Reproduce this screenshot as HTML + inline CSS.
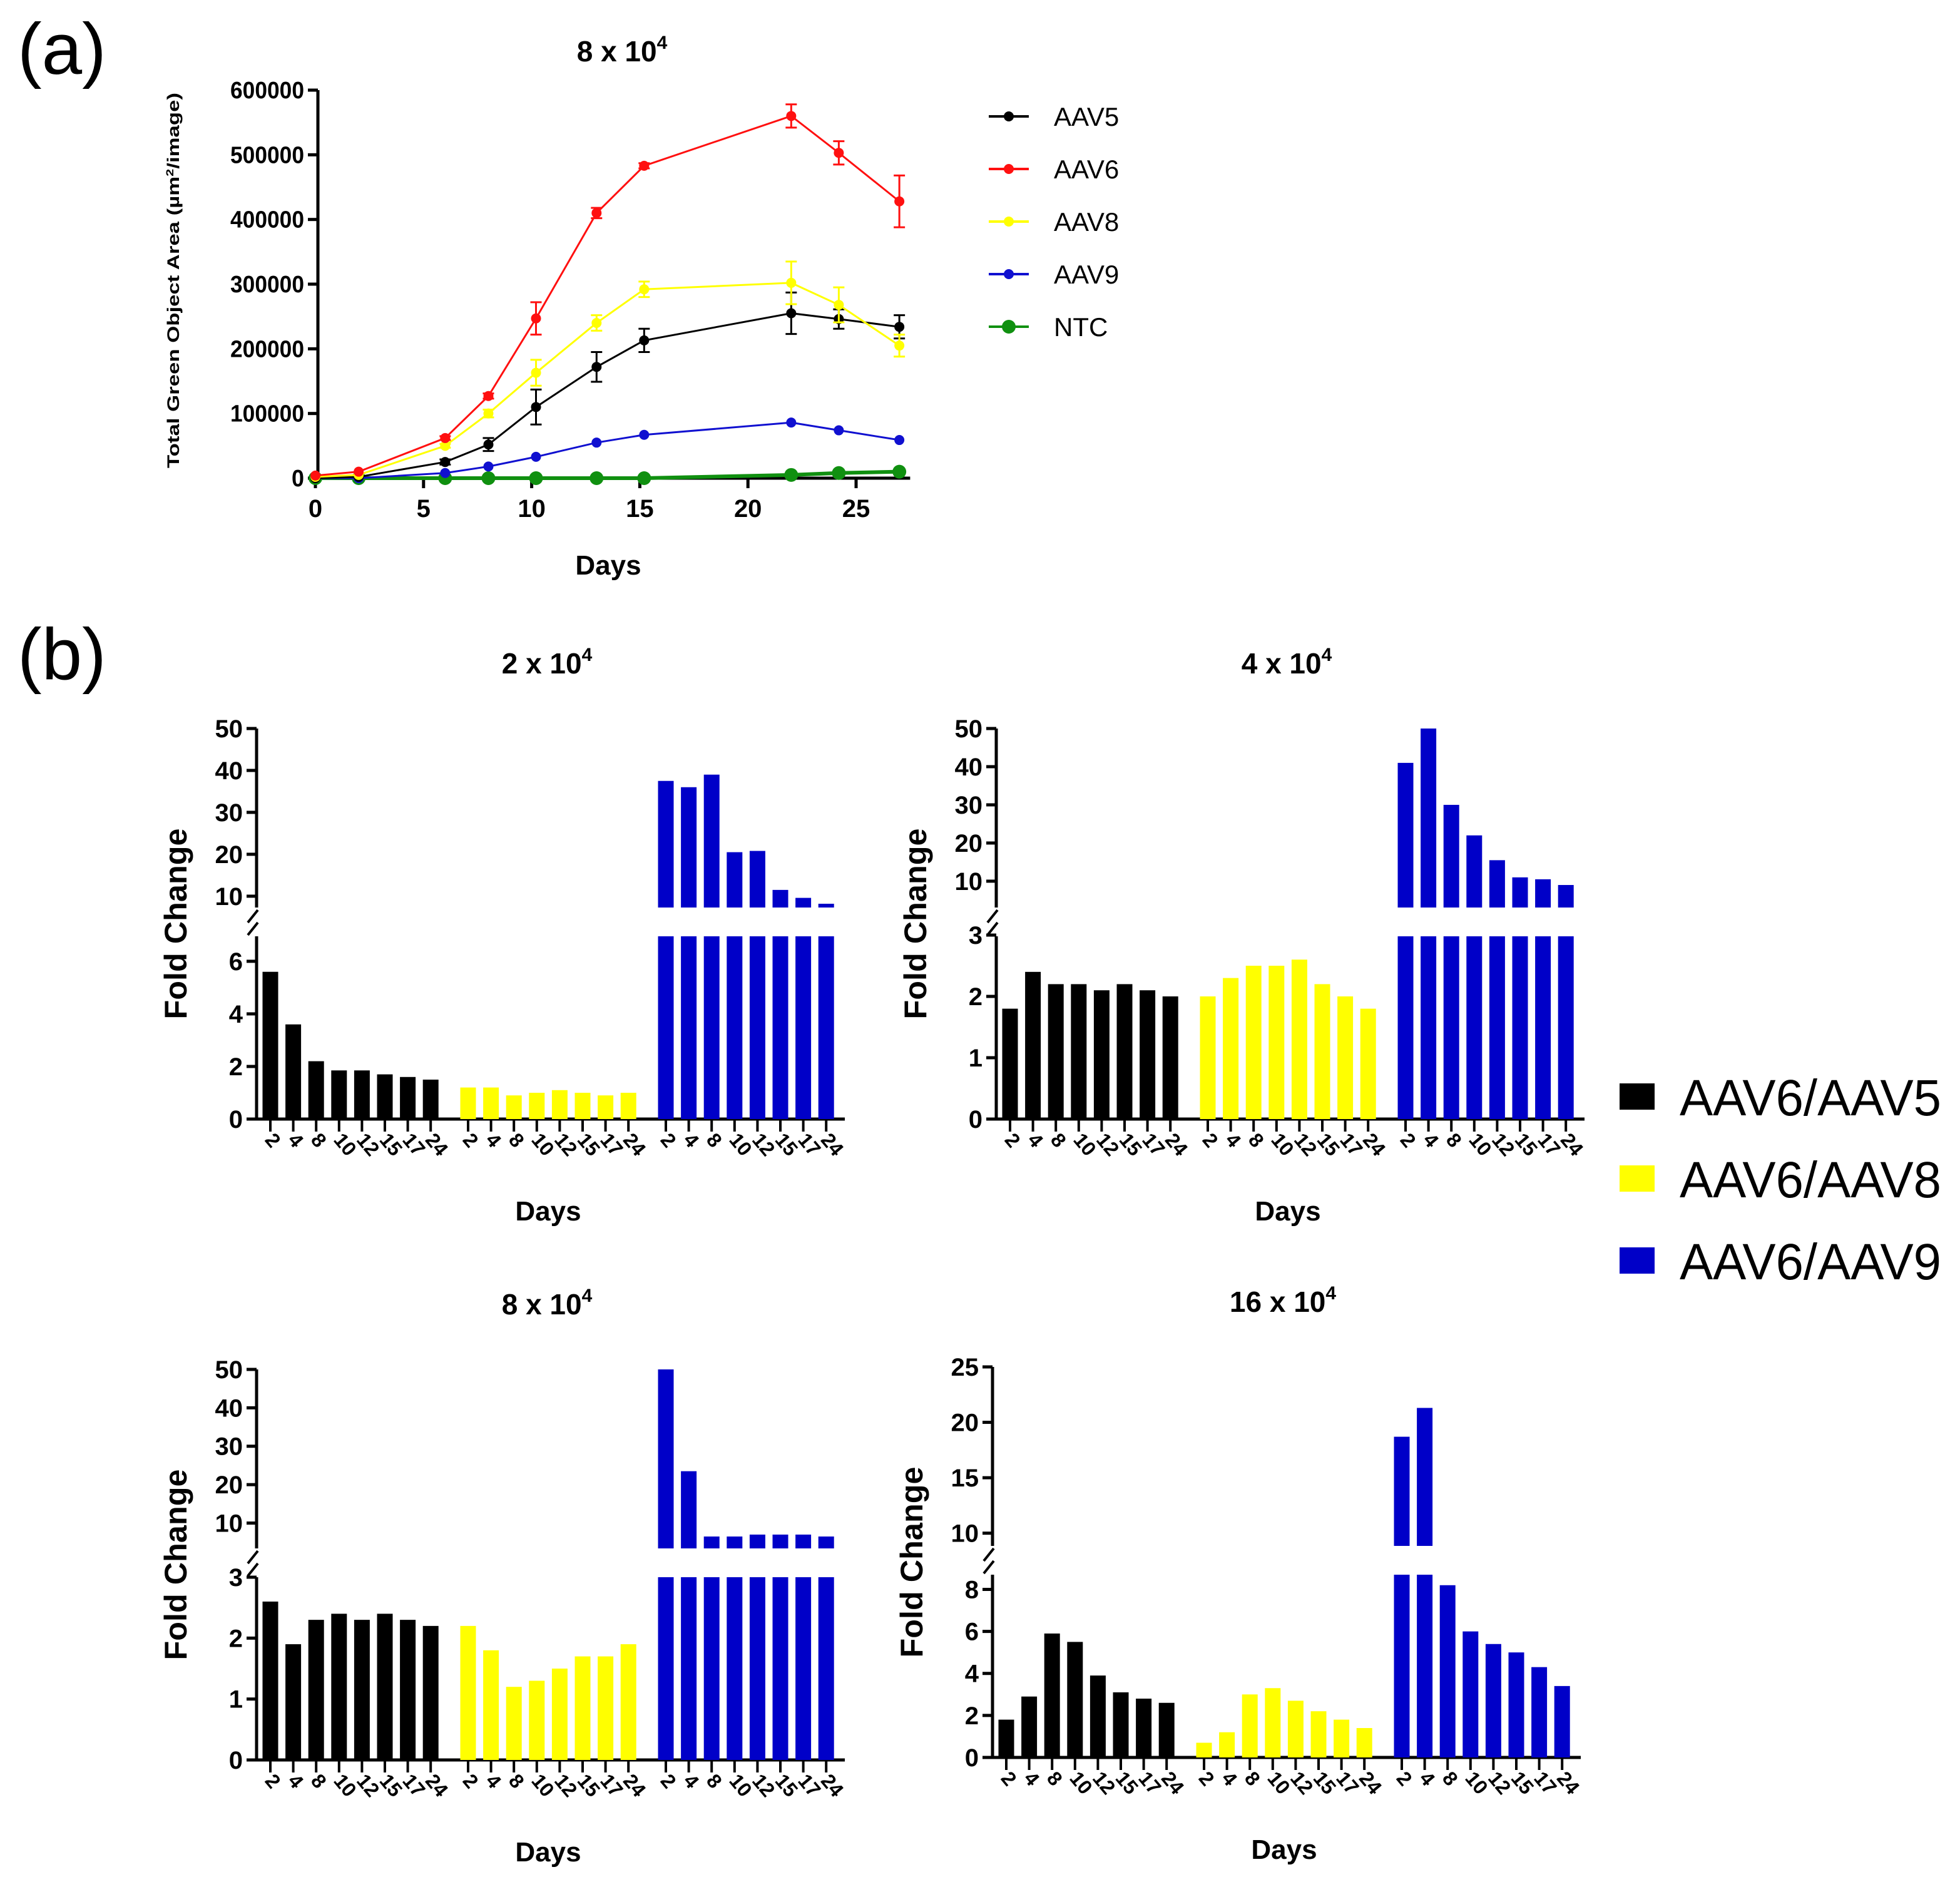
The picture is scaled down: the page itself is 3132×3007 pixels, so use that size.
<!DOCTYPE html>
<html><head><meta charset="utf-8"><style>
html,body{margin:0;padding:0;background:#fff;}
svg{display:block;font-family:"Liberation Sans",sans-serif;}
</style></head><body>
<svg id="fig" width="3132" height="3007" viewBox="0 0 3132 3007" xmlns="http://www.w3.org/2000/svg">
<text x="28" y="118" font-size="116">(a)</text>
<text x="28" y="1085" font-size="116">(b)</text>
<g id="lineChart"></g>
<g id="bars"></g>
<g id="legendB"></g>
</svg>
<script>
// ---------- Panel (a) data ----------
const days = [0, 2, 6, 8, 10.2, 13, 15.2, 22, 24.2, 27];
const seriesNames = ["AAV5", "AAV6", "AAV8", "AAV9", "NTC"];
const seriesColors = ["#000000", "#ff1010", "#ffff00", "#1010d0", "#109010"];
const aav5 = [0, 2000, 25000, 52000, 110000, 172000, 213000, 255000, 246000, 234000];
const aav6 = [4000, 10000, 62000, 127000, 247000, 410000, 483000, 560000, 503000, 428000];
const aav8 = [2000, 5000, 50000, 100000, 163000, 240000, 292000, 302000, 268000, 205000];
const aav9 = [0, 0, 8000, 18000, 33000, 55000, 67000, 86000, 74000, 59000];
const ntc = [0, 0, 0, 0, 0, 0, 0, 5000, 8000, 10000];
const aav5Err = [0, 0, 4000, 10000, 27000, 23000, 18000, 32000, 15000, 18000];
const aav6Err = [0, 0, 3000, 4000, 25000, 8000, 4000, 18000, 18000, 40000];
const aav8Err = [0, 0, 3000, 6000, 20000, 12000, 12000, 33000, 27000, 17000];
const aav9Err = [0, 0, 0, 0, 0, 0, 0, 0, 0, 0];
const ntcErr = [0, 0, 0, 0, 0, 0, 0, 0, 0, 0];
const yTicksA = [0, 100000, 200000, 300000, 400000, 500000, 600000];
const xTicksA = [0, 5, 10, 15, 20, 25];

// ---------- Panel (b) data ----------
const dayLabels = ["2", "4", "8", "10", "12", "15", "17", "24"];
const groupNames = ["AAV6/AAV5", "AAV6/AAV8", "AAV6/AAV9"];
const groupColors = ["#000000", "#ffff00", "#0000c8"];
const titles = ["2 x 10", "4 x 10", "8 x 10", "16 x 10"];
const p1Black = [5.6, 3.6, 2.2, 1.85, 1.85, 1.7, 1.6, 1.5];
const p1Yellow = [1.2, 1.2, 0.9, 1.0, 1.1, 1.0, 0.9, 1.0];
const p1Blue = [37.5, 36, 39, 20.5, 20.8, 11.5, 9.6, 8.2];
const p2Black = [1.8, 2.4, 2.2, 2.2, 2.1, 2.2, 2.1, 2.0];
const p2Yellow = [2.0, 2.3, 2.5, 2.5, 2.6, 2.2, 2.0, 1.8];
const p2Blue = [41, 50, 30, 22, 15.5, 11, 10.5, 9];
const p3Black = [2.6, 1.9, 2.3, 2.4, 2.3, 2.4, 2.3, 2.2];
const p3Yellow = [2.2, 1.8, 1.2, 1.3, 1.5, 1.7, 1.7, 1.9];
const p3Blue = [50, 23.5, 6.5, 6.5, 7, 7, 7, 6.5];
const p4Black = [1.8, 2.9, 5.9, 5.5, 3.9, 3.1, 2.8, 2.6];
const p4Yellow = [0.7, 1.2, 3.0, 3.3, 2.7, 2.2, 1.8, 1.4];
const p4Blue = [18.7, 21.3, 8.2, 6.0, 5.4, 5.0, 4.3, 3.4];
const lowTicks1 = [0, 2, 4, 6];
const lowTicks2 = [0, 1, 2, 3];
const lowTicks4 = [0, 2, 4, 6, 8];
const upTicks1 = [10, 20, 30, 40, 50];
const upTicks4 = [10, 15, 20, 25];

const NS = "http://www.w3.org/2000/svg";
function mk(tag, attrs, parent) {
  const e = document.createElementNS(NS, tag);
  for (const k in attrs) e.setAttribute(k, attrs[k]);
  parent.appendChild(e);
  return e;
}

// ---------- draw panel (a) ----------
(function () {
  const g = document.getElementById("lineChart");
  const x0 = 508, xPerDay = (1368 - 504) / 25, y0 = 764, yTop = 144;
  const xs = d => 504 + d * xPerDay;
  const ys = v => y0 - (v / 600000) * (y0 - yTop);
  const axY = mk("line", {x1: x0, y1: yTop, x2: x0, y2: y0, stroke: "#000", "stroke-width": 5}, g);
  
  
  const axX = mk("line", {x1: x0, y1: y0, x2: xs(27.5), y2: y0, stroke: "#000", "stroke-width": 5}, g);
  
  
  yTicksA.forEach(v => {
    mk("line", {x1: x0 - 16, y1: ys(v), x2: x0, y2: ys(v), stroke: "#000", "stroke-width": 5}, g);
    const t = mk("text", {x: x0 - 22, y: ys(v) + 13, "text-anchor": "end", "font-size": 38, "font-weight": "bold", "textLength": v === 0 ? 20 : 118, lengthAdjust: "spacingAndGlyphs"}, g);
    t.textContent = v;
    
    
  });
  xTicksA.forEach(v => {
    mk("line", {x1: xs(v), y1: y0, x2: xs(v), y2: y0 + 16, stroke: "#000", "stroke-width": 5}, g);
    const t = mk("text", {x: xs(v), y: y0 + 62, "text-anchor": "middle", "font-size": 40, "font-weight": "bold"}, g);
    t.textContent = v;
    
    
  });
  const xt = mk("text", {x: 972, y: 918, "text-anchor": "middle", "font-size": 44, "font-weight": "bold"}, g);
  xt.textContent = "Days";
  
  
  const yt = mk("text", {x: 0, y: 0, "text-anchor": "middle", "font-size": 27, "font-weight": "bold", "textLength": 600, lengthAdjust: "spacingAndGlyphs", transform: "translate(286,448) rotate(-90)"}, g);
  yt.innerHTML = 'Total Green Object Area (µm<tspan font-size="17" dy="-9">2</tspan><tspan dy="9">/image)</tspan>';
  
  
  const tt = mk("text", {x: 994, y: 98, "text-anchor": "middle", "font-size": 46, "font-weight": "bold"}, g);
  tt.innerHTML = '8 x 10<tspan font-size="30" dy="-20">4</tspan>';
  
  
  const all = [aav5, aav6, aav8, aav9, ntc];
  const errs = [aav5Err, aav6Err, aav8Err, aav9Err, ntcErr];
  [4, 3, 0, 2, 1].forEach(si => {
    const vals = all[si], col = seriesColors[si];
    const pts = days.map((d, i) => xs(d) + "," + ys(vals[i])).join(" ");
    const pl = mk("polyline", {points: pts, fill: "none", stroke: col, "stroke-width": si === 4 ? 6 : 3}, g);
    
    
    days.forEach((d, i) => {
      const e = errs[si][i];
      if (e > 0) {
        mk("line", {x1: xs(d), y1: ys(vals[i] - e), x2: xs(d), y2: ys(vals[i] + e), stroke: col, "stroke-width": 3}, g);
        mk("line", {x1: xs(d) - 9, y1: ys(vals[i] + e), x2: xs(d) + 9, y2: ys(vals[i] + e), stroke: col, "stroke-width": 3}, g);
        mk("line", {x1: xs(d) - 9, y1: ys(vals[i] - e), x2: xs(d) + 9, y2: ys(vals[i] - e), stroke: col, "stroke-width": 3}, g);
      }
      const c = mk("circle", {cx: xs(d), cy: ys(vals[i]), r: si === 4 ? 11 : 8, fill: col}, g);
      
      
    });
  });
  seriesNames.forEach((n, i) => {
    const y = 186 + i * 84;
    mk("line", {x1: 1580, y1: y, x2: 1644, y2: y, stroke: seriesColors[i], "stroke-width": 4}, g);
    mk("circle", {cx: 1612, cy: y, r: i === 4 ? 11 : 8, fill: seriesColors[i]}, g);
    const t = mk("text", {x: 1684, y: y + 15, "font-size": 42}, g);
    t.textContent = n;
    
    
  });
})();

// ---------- draw panel (b) ----------
function barPanel(cfg) {
  const g = mk("g", {}, document.getElementById("bars"));
  
  
  const dy = cfg.dy, ax = cfg.ax;
  const zeroY = 1788 + dy, lowTopY = 1496 + dy, upBotY = 1450 + dy, upTopY = 1164 + dy;
  const yLow = v => zeroY - (v / cfg.lowMax) * (zeroY - lowTopY);
  const yUp = v => upBotY - ((v - cfg.upMin) / (cfg.upMax - cfg.upMin)) * (upBotY - upTopY);
  const a1 = mk("line", {x1: ax, y1: zeroY, x2: ax, y2: lowTopY, stroke: "#000", "stroke-width": 5}, g);
  
  
  const a2 = mk("line", {x1: ax, y1: upBotY, x2: ax, y2: upTopY, stroke: "#000", "stroke-width": 5}, g);
  
  
  mk("line", {x1: ax - 14, y1: upBotY + 24, x2: ax + 2, y2: upBotY + 4, stroke: "#000", "stroke-width": 4}, g);
  mk("line", {x1: ax - 14, y1: lowTopY - 2, x2: ax + 2, y2: lowTopY - 22, stroke: "#000", "stroke-width": 4}, g);
  const xa = mk("line", {x1: ax - 10, y1: zeroY, x2: ax + 940, y2: zeroY, stroke: "#000", "stroke-width": 5}, g);
  
  
  cfg.lowTicks.forEach(v => {
    mk("line", {x1: ax - 16, y1: yLow(v), x2: ax, y2: yLow(v), stroke: "#000", "stroke-width": 5}, g);
    const t = mk("text", {x: ax - 22, y: yLow(v) + 14, "text-anchor": "end", "font-size": 40, "font-weight": "bold"}, g);
    t.textContent = v;
    
    
  });
  cfg.upTicks.forEach(v => {
    mk("line", {x1: ax - 16, y1: yUp(v), x2: ax, y2: yUp(v), stroke: "#000", "stroke-width": 5}, g);
    const t = mk("text", {x: ax - 22, y: yUp(v) + 14, "text-anchor": "end", "font-size": 40, "font-weight": "bold"}, g);
    t.textContent = v;
    
    
  });
  const groups = [cfg.black, cfg.yellow, cfg.blue];
  const bw = 25, pitch = 36.6, gstep = 316;
  groups.forEach((vals, gi) => {
    vals.forEach((v, i) => {
      const cx = ax + 22 + gi * gstep + i * pitch;
      if (v <= cfg.lowMax) {
        const r = mk("rect", {x: cx - bw / 2, y: yLow(v), width: bw, height: zeroY - yLow(v), fill: groupColors[gi]}, g);
        
        
      } else {
        const r = mk("rect", {x: cx - bw / 2, y: lowTopY, width: bw, height: zeroY - lowTopY, fill: groupColors[gi]}, g);
        
        
        const r2 = mk("rect", {x: cx - bw / 2, y: yUp(v), width: bw, height: upBotY - yUp(v), fill: groupColors[gi]}, g);
        
        
      }
      mk("line", {x1: cx, y1: zeroY, x2: cx, y2: zeroY + 20, stroke: "#000", "stroke-width": 4}, g);
      const t = mk("text", {x: 0, y: 0, "font-size": 32, "font-weight": "bold", transform: "translate(" + (cx - 10) + "," + (zeroY + 34) + ") rotate(50)"}, g);
      t.textContent = dayLabels[i];
      
      
    });
  });
  const xt = mk("text", {x: ax + 466, y: zeroY + 162, "text-anchor": "middle", "font-size": 44, "font-weight": "bold"}, g);
  xt.textContent = "Days";
  
  
  const yt = mk("text", {x: 0, y: 0, "text-anchor": "middle", "font-size": 50, "font-weight": "bold", "textLength": 305, lengthAdjust: "spacingAndGlyphs", transform: "translate(" + (ax - 112) + "," + (1476 + dy) + ") rotate(-90)"}, g);
  yt.textContent = "Fold Change";
  
  
  const tt = mk("text", {x: ax + 464, y: 1076 + dy, "text-anchor": "middle", "font-size": 46, "font-weight": "bold"}, g);
  tt.innerHTML = cfg.title + '<tspan font-size="30" dy="-20">4</tspan>';
  
  
}
barPanel({name: "chart-2e4", ax: 410, dy: 0, lowMax: 6.95, upMin: 7.3, upMax: 50, lowTicks: lowTicks1, upTicks: upTicks1, black: p1Black, yellow: p1Yellow, blue: p1Blue, title: titles[0]});
barPanel({name: "chart-4e4", ax: 1592, dy: 0, lowMax: 2.98, upMin: 3.1, upMax: 50, lowTicks: lowTicks2, upTicks: upTicks1, black: p2Black, yellow: p2Yellow, blue: p2Blue, title: titles[1]});
barPanel({name: "chart-8e4", ax: 410, dy: 1024, lowMax: 3.0, upMin: 3.4, upMax: 50, lowTicks: lowTicks2, upTicks: upTicks1, black: p3Black, yellow: p3Yellow, blue: p3Blue, title: titles[2]});
barPanel({name: "chart-16e4", ax: 1586, dy: 1020, lowMax: 8.7, upMin: 8.85, upMax: 25, lowTicks: lowTicks4, upTicks: upTicks4, black: p4Black, yellow: p4Yellow, blue: p4Blue, title: titles[3]});

(function () {
  const g = document.getElementById("legendB");
  groupNames.forEach((n, i) => {
    const cy = 1752 + i * 131;
    const r = mk("rect", {x: 2588, y: cy - 21, width: 56, height: 42, fill: groupColors[i]}, g);
    
    
    const t = mk("text", {x: 2684, y: cy + 30, "font-size": 82, "textLength": 418, lengthAdjust: "spacingAndGlyphs"}, g);
    t.textContent = n;
    
    
  });
})();
</script>
</body></html>
